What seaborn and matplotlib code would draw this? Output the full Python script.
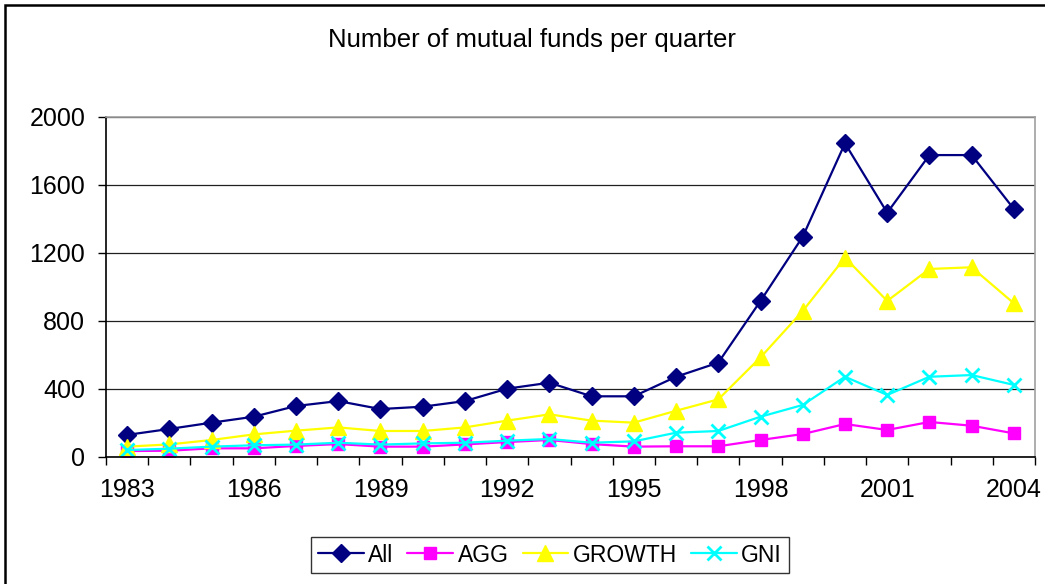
import pandas as pd
import matplotlib.pyplot as plt
import matplotlib.patches as mpatches
import seaborn as sns

# years on the x axis, one point per year
years = list(range(1983, 2005))

# number of funds
all_funds = [130, 165, 202, 237, 300, 329, 282, 296, 329, 402, 437,
             357, 357, 472, 555, 918, 1296, 1845, 1437, 1776, 1776, 1459]
agg_funds = [35, 37, 51, 51, 65, 76, 61, 61, 74, 88, 100,
             76, 61, 63, 63, 100, 135, 194, 159, 206, 184, 139]
growth_funds = [61, 74, 100, 133, 155, 174, 153, 153, 174, 214, 251,
                214, 202, 272, 339, 586, 859, 1173, 918, 1106, 1116, 904]
gni_funds = [41, 49, 61, 69, 73, 84, 73, 80, 84, 96, 106,
             84, 92, 143, 153, 237, 306, 472, 365, 472, 482, 424]

series_names = ["All", "AGG", "GROWTH", "GNI"]
y_ticks = [0, 400, 800, 1200, 1600, 2000]

# one dataframe, the x position is just the index of the year
df = pd.DataFrame({"pos": range(len(years)), "year": years,
                   "All": all_funds, "AGG": agg_funds,
                   "GROWTH": growth_funds, "GNI": gni_funds})

sns.set_style("white")
plt.rcParams["font.family"] = ["Liberation Sans", "DejaVu Sans"]
# plain black text like excel
plt.rcParams["text.color"] = "black"
plt.rcParams["xtick.color"] = "black"
plt.rcParams["ytick.color"] = "black"
plt.rcParams["axes.labelcolor"] = "black"

fig = plt.figure(figsize=(10.45, 5.84), dpi=100)
ax = fig.add_axes([106 / 1045, 127 / 584, 929 / 1045, 340 / 584])

# style for each series (excel default look)
styles = {
    "All": dict(color="#000080", marker="D", markersize=9.5,
                markeredgecolor="#000080", markeredgewidth=1),
    "AGG": dict(color="#FF00FF", marker="s", markersize=9,
                markeredgecolor="#FF00FF", markeredgewidth=1),
    "GROWTH": dict(color="#FFFF00", marker="^", markersize=11,
                   markeredgecolor="#FFFF00", markeredgewidth=1),
    "GNI": dict(color="#00FFFF", marker="x", markersize=10,
                markeredgecolor="#00FFFF", markeredgewidth=2),
}
for name in series_names:
    sns.lineplot(data=df, x="pos", y=name, ax=ax, label=name,
                 linewidth=1.6, **styles[name])

# axis limits and grid
ax.set_xlim(-0.5, len(years) - 0.5)
ax.set_ylim(0, 2000)
ax.set_yticks(y_ticks)
ax.set_yticklabels([str(t) for t in y_ticks])
ax.yaxis.grid(True, color="#202020", linewidth=0.9)
ax.set_axisbelow(True)

# labels every third year at the point, tick marks between the years
label_pos = list(range(0, len(years), 3))
ax.set_xticks(label_pos)
ax.set_xticklabels([str(years[i]) for i in label_pos])
ax.set_xticks([i - 0.5 for i in range(len(years) + 1)], minor=True)
ax.tick_params(axis="x", which="major", length=0, pad=15, labelsize=18)
ax.tick_params(axis="x", which="minor", length=6, width=1, direction="out",
               color="black", bottom=True)
ax.tick_params(axis="y", length=6, width=1, direction="out", pad=9,
               labelsize=18, color="black", left=True)
ax.set_xlabel("")
ax.set_ylabel("")

# spines like the excel plot area
for side in ["left", "bottom"]:
    ax.spines[side].set_color("black")
    ax.spines[side].set_linewidth(1.2)
for side in ["top", "right"]:
    ax.spines[side].set_color("#A0A0A0")
    ax.spines[side].set_linewidth(1.2)

# title
fig.text(532 / 1045, 1 - 40 / 584, "Number of mutual funds per quarter",
         ha="center", va="center", fontsize=18.5)

# legend at the bottom in a box
ax.get_legend().remove()
handles, labels = ax.get_legend_handles_labels()
leg = fig.legend(handles, labels, loc="center", ncol=4,
                 bbox_to_anchor=(550 / 1045, 1 - 555 / 584),
                 fontsize=16.5, frameon=True, fancybox=False,
                 handlelength=2.0, handletextpad=0.2, columnspacing=0.6,
                 borderpad=0.3, borderaxespad=0)
leg.get_frame().set_edgecolor("black")
leg.get_frame().set_linewidth(1)

# outer chart border, right and bottom edges run off the picture
border = mpatches.Rectangle((5 / 1045, -0.1), 1.2, 1 - 5 / 584 + 0.1,
                            transform=fig.transFigure, fill=False,
                            edgecolor="black", linewidth=1.8)
fig.patches.append(border)

fig.savefig("out.png", dpi=100)
plt.close()
